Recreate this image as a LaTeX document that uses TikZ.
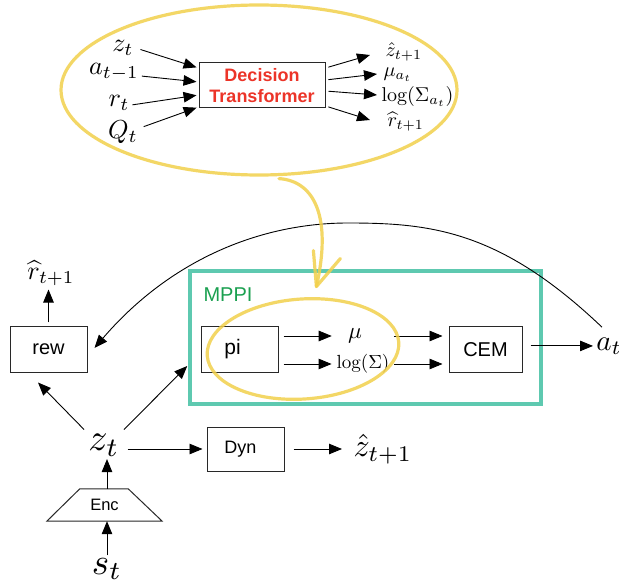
\documentclass[tikz,border=0pt]{standalone}
\usepackage{fontspec}
\newfontfamily\hv{Liberation Sans}
\usetikzlibrary{arrows.meta,shapes.geometric,calc}
\definecolor{hlyellow}{RGB}{242,208,76}
\definecolor{mppiteal}{RGB}{94,201,176}
\definecolor{mppigreen}{RGB}{26,160,80}
\definecolor{dtred}{RGB}{236,52,40}
\definecolor{boxline}{RGB}{40,40,40}
\begin{document}
\begin{tikzpicture}[x=1pt,y=-1pt,
  arr/.style={draw=black, line width=0.9pt, -{Triangle[length=13pt,width=10.5pt]}},
  blk/.style={draw=boxline, line width=1pt, inner sep=0pt, font=\hv\fontsize{20}{24}\selectfont},
  ml/.style={inner sep=0.6pt},
  hl/.style={draw=hlyellow, draw opacity=0.85, line width=3.2pt},
]
\useasboundingbox[fill=white] (0,0) rectangle (619,588);

% ---------- MPPI frame ----------
\node[draw=mppiteal, line width=3.5pt, minimum width=351pt, minimum height=133pt, inner sep=0pt] (mppi) at (365.5,337.5) {};
\node[text=mppigreen, font=\hv\fontsize{20}{24}\selectfont, inner sep=0pt] (mlab) at (228,295) {MPPI};

% ---------- Decision Transformer ----------
\node[ml, scale=2.6] (iz) at (123,48) {$z_t$};
\node[ml, scale=2.6] (ia) at (114,72) {$a_{t-1}$};
\node[ml, scale=2.6] (ir) at (119,103) {$r_t$};
\node[ml, scale=2.6] (iq) at (123,132) {$Q_t$};
\node[blk, minimum width=126pt, minimum height=45pt, text=dtred, align=center,
      font=\hv\bfseries\fontsize{18}{21.5}\selectfont] (dt) at (262,85.5) {Decision\\Transformer};
\node[ml, scale=2.0, anchor=west] (oz) at (384,52) {$\hat{z}_{t+1}$};
\node[ml, scale=2.0, anchor=west] (om) at (382,75) {$\mu_{a_t}$};
\node[ml, scale=2.0, anchor=west] (ol) at (380,97) {$\log(\Sigma_{a_t})$};
\node[ml, scale=2.0, anchor=west] (ohr) at (386,122) {$\widehat{r}_{t+1}$};

\draw[arr, shorten <=5pt, shorten >=2pt] (iz.east) -- ([yshift=17.5pt]dt.west);
\draw[arr, shorten <=1pt, shorten >=2pt] ([yshift=-4pt]ia.east) -- ([yshift=3.5pt]dt.west);
\draw[arr, shorten <=1pt, shorten >=2pt] ([yshift=-2pt]ir.east) -- ([yshift=-9.5pt]dt.west);
\draw[arr, shorten <=4pt, shorten >=2pt] ([yshift=4pt]iq.east) -- ([yshift=-21.5pt]dt.west);

\draw[arr, shorten <=3pt] ([yshift=17.5pt]dt.east) -- ([xshift=-14pt,yshift=-3pt]oz.west);
\draw[arr, shorten <=3pt] ([yshift=5.5pt]dt.east) -- ([xshift=-5pt,yshift=1pt]om.west);
\draw[arr, shorten <=3pt] ([yshift=-5.5pt]dt.east) -- ([xshift=-3pt,yshift=2pt]ol.west);
\draw[arr, shorten <=3pt] ([yshift=-20.5pt]dt.east) -- ([xshift=-16pt,yshift=2pt]ohr.west);

% ---------- MPPI content ----------
\node[blk, minimum width=77pt, minimum height=45pt, font=\hv\fontsize{21}{24}\selectfont] (pi) at (239.5,349.5) {pi\hspace*{14pt}};
\node[ml, scale=2.3] (mu) at (355,336) {$\mu$};
\node[ml, scale=1.9] (lg) at (363,364) {$\log(\Sigma)$};
\node[blk, minimum width=73pt, minimum height=45pt] (cem) at (485.5,349.5) {CEM};
\node[ml, scale=2.9, anchor=base west] (act) at (594,350) {$a_t$};

\draw[arr, shorten <=5pt, shorten >=14.5pt] (pi.east |- mu) -- (mu.west);
\draw[arr, shorten <=5pt, shorten >=3.5pt] (pi.east |- lg) -- (lg.west);
\draw[arr, shorten <=30pt, shorten >=6pt] (mu.east) -- (mu.east -| cem.west);
\draw[arr, shorten <=3pt, shorten >=6pt] (lg.east) -- (lg.east -| cem.west);
\draw[arr, shorten <=8pt, shorten >=1pt] (cem.east |- act.west) -- (act.west);

% ---------- reward ----------
\node[blk, minimum width=77pt, minimum height=45pt] (rew) at (48.5,349.5) {rew};
\node[ml, scale=2.6] (rh) at (51,273) {$\widehat{r}_{t+1}$};
\draw[arr, shorten <=4pt, shorten >=2pt] (rew.north) -- (rew.north |- rh.south);

\draw[arr] ([xshift=8pt,yshift=8pt]act.north west) .. controls (500,230) and (430,223) .. (348,223)
   .. controls (260,223) and (170,260) .. ([xshift=7pt,yshift=1.5pt]rew.east);

% ---------- bottom ----------
\node[ml, scale=3.8] (zt) at (104,445) {$z_t$};
\node[blk, minimum width=77pt, minimum height=44pt, font=\hv\fontsize{18}{21}\selectfont] (dyn) at (245.5,449) {Dyn\hspace*{10pt}};
\node[ml, scale=3.2, anchor=west] (zh) at (351,449) {$\hat{z}_{t+1}$};
\node[inner sep=0pt, minimum width=115pt, minimum height=32pt, font=\hv\fontsize{16.5}{20}\selectfont] (enc) at (104.5,505) {\raisebox{-3pt}{Enc}};
\draw[boxline, line width=1pt] (enc.south west) -- ([xshift=33pt]enc.north west) -- ([xshift=-34pt]enc.north east) -- (enc.south east) -- cycle;
\node[ml, scale=3.7] (st) at (107,569) {$s_t$};

\draw[arr, shorten <=5pt, shorten >=4pt] (zt.east |- dyn.west) -- (dyn.west);
\draw[arr, shorten <=9pt, shorten >=9pt] (dyn.east) -- (zh.west);
\draw[arr] (st.north) -- (st.north |- enc.south);
\draw[arr] (enc.north -| st.north) -- (zt.south -| st.north);
\draw[arr, shorten <=2pt] (zt.north west) -- ([xshift=-10.5pt,yshift=-10pt]rew.south);
\draw[arr, shorten <=2pt] (zt.north east) -- ([xshift=-1pt,yshift=-28.5pt]mppi.west);

% ---------- yellow highlights ----------
\node[hl, ellipse, minimum width=396pt, minimum height=170pt, inner sep=0pt] (hl1) at (259,90) {};
\node[hl, ellipse, minimum width=192pt, minimum height=100pt, inner sep=0pt, rotate=4] (hl2) at (303,349) {};
\coordinate (ytip) at ([xshift=17pt,yshift=11pt]hl2.north);
\draw[hl, line cap=round] ([xshift=20pt,yshift=-2pt]hl1.south) .. controls (315,181) and (332,218) .. (ytip);
\draw[hl, line cap=round, line join=round] ($(ytip)+(-3,-36)$) -- (ytip) -- ($(ytip)+(24,-28)$);
\end{tikzpicture}
\end{document}
